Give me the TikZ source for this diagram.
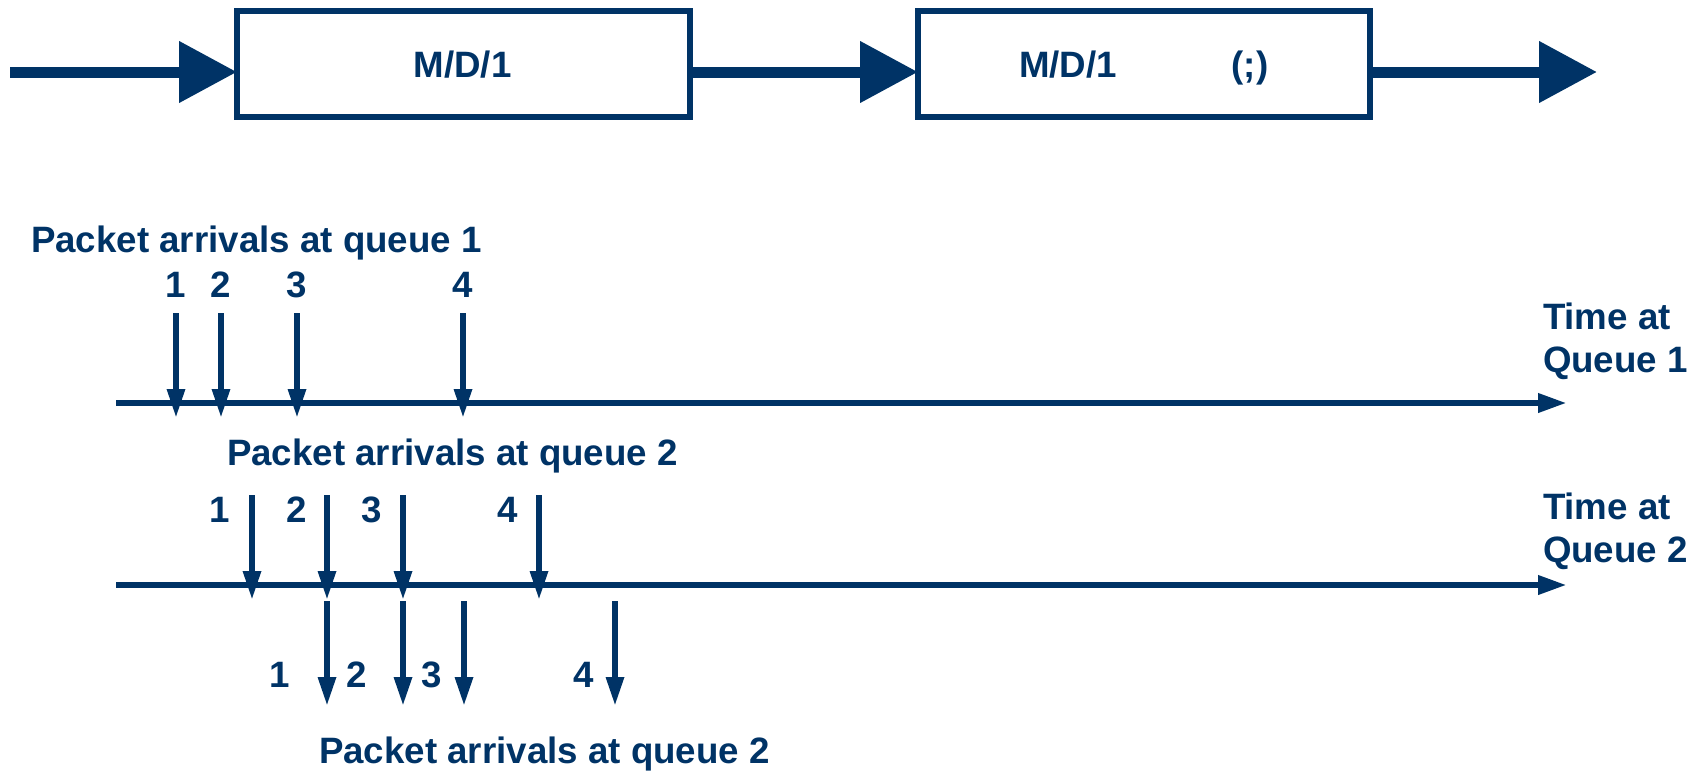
\documentclass[tikz,border=0pt]{standalone}
\usepackage{fontspec}
\setmainfont{Liberation Sans}
\usetikzlibrary{arrows.meta}
\definecolor{navy}{RGB}{0,51,102}
\begin{document}
\begin{tikzpicture}[x=1pt,y=-1pt,
  every node/.style={inner sep=0pt,outer sep=0pt,text=navy,font=\fontsize{36.7}{43}\selectfont\bfseries},
  qbox/.style={draw=navy,line width=6pt,rectangle,minimum height=105.5pt},
  bigarrow/.style={draw=navy,line width=11pt,-{Triangle[length=58pt,width=59pt]}},
  axisarrow/.style={draw=navy,line width=6.5pt,-{Triangle[length=29pt,width=18pt]}},
  varrow/.style={draw=navy,line width=6pt,-{Triangle[length=29pt,width=17pt]}},
  lbl/.style={anchor=base},
  ]
\useasboundingbox (0,0) rectangle (1702,771);
% queues
\node[qbox,minimum width=453pt] (b1) at (463.5,63.75) {};
\node[qbox,minimum width=452pt] (b2) at (1144,63.75) {};
\node[lbl] (t1) at (462.5,77) {M/D/1};
\node[lbl] (t2) at (1068,77) {M/D/1};
\node[lbl] (t3) at (1250,77) {(;)};
\coordinate (in) at (10,72);
\coordinate (out) at (1597,72);
\draw[bigarrow] (in) -- (in -| b1.west);
\draw[bigarrow] (b1.east |- in) -- (b2.west |- in);
\draw[bigarrow] (b2.east |- in) -- (out);
% queue 1 timeline
\node[anchor=base west] (h1) at (31,252) {Packet arrivals at queue 1};
\coordinate (a1s) at (116,403);
\coordinate (a1e) at (1567,403);
\draw[axisarrow] (a1s) -- (a1e);
\node[anchor=north west,align=left] (tq1) at (1543,303) {Time at\\Queue 1};
\foreach \x/\n in {176/1,221/2,297/3,463/4}{
  \node[lbl] (q1l\n) at (\x,297) {\n};
  \coordinate (q1s\n) at (\x,313);
  \coordinate (q1e\n) at (\x,418);
  \draw[varrow] (q1s\n) -- (q1e\n);
}
% queue 2 timeline
\node[anchor=base west] (h2) at (227,465) {Packet arrivals at queue 2};
\coordinate (a2s) at (116,585);
\coordinate (a2e) at (1567,585);
\draw[axisarrow] (a2s) -- (a2e);
\node[anchor=north west,align=left] (tq2) at (1543,493) {Time at\\Queue 2};
\foreach \x/\lx/\n in {252/219.5/1,327/296.5/2,403/372/3,539/508/4}{
  \node[lbl] (q2l\n) at (\lx,522) {\n};
  \coordinate (q2s\n) at (\x,495);
  \coordinate (q2e\n) at (\x,600);
  \draw[varrow] (q2s\n) -- (q2e\n);
}
% departures
\foreach \x/\lx/\n in {327/280/1,403/357/2,464/432/3,615/584/4}{
  \node[lbl] (dl\n) at (\lx,687) {\n};
  \coordinate (ds\n) at (\x,601);
  \coordinate (de\n) at (\x,706);
  \draw[varrow] (ds\n) -- (de\n);
}
\node[anchor=base west] (h3) at (319,763) {Packet arrivals at queue 2};
\end{tikzpicture}
\end{document}
